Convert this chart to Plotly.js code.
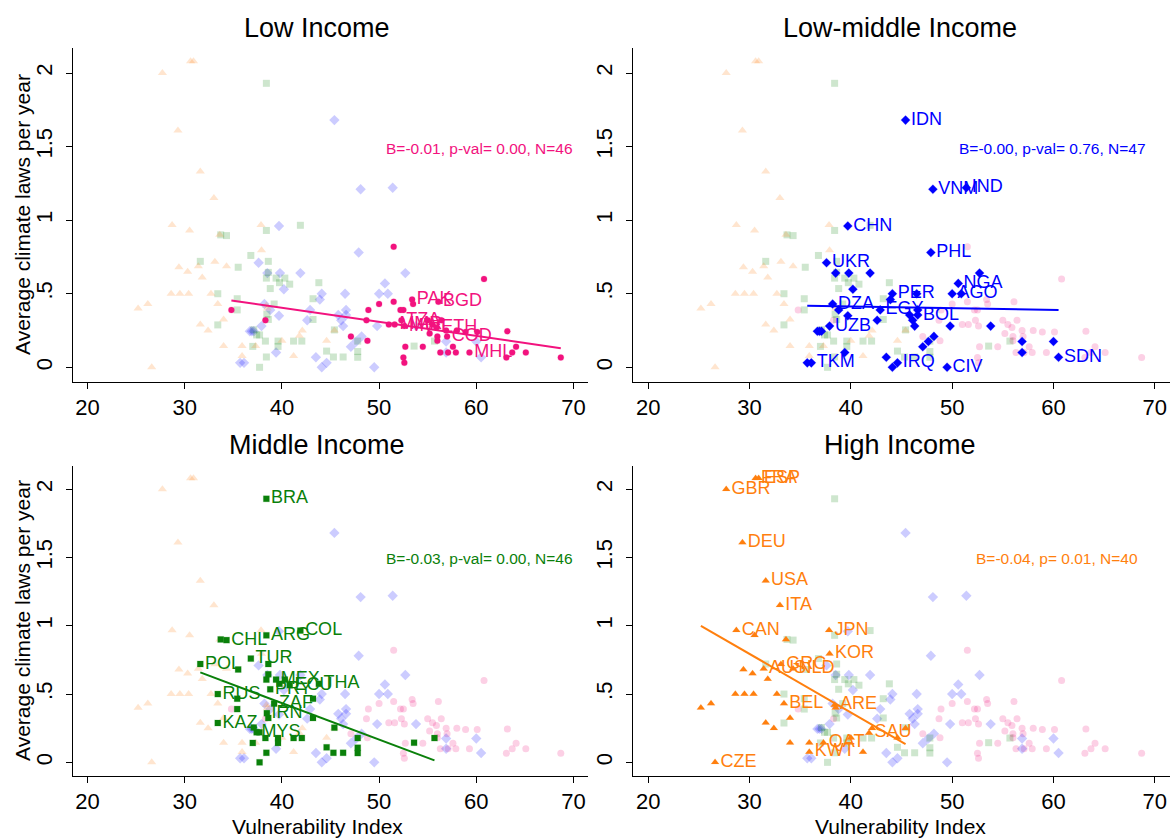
<!DOCTYPE html>
<html><head><meta charset="utf-8">
<script src="https://cdn.plot.ly/plotly-3.0.1.min.js"></script>
<style>html,body{margin:0;padding:0;background:#fff}#chart{width:1171px;height:838px}</style>
</head><body><div id="chart"></div>
<script>
// ---- Low income ----
const lowX = [34.8, 38.3, 47.1, 48.7, 48.8, 48.9, 50.0, 51.0, 51.5, 51.5, 51.6, 52.2, 52.5, 52.3, 52.5, 52.6, 52.7, 53.4, 53.5, 52.6, 54.5, 56.1, 56.0, 56.0, 56.4, 57.0, 57.6, 56.3, 57.1, 57.9, 59.3, 58.9, 60.8, 63.2, 64.1, 63.7, 63.1, 65.1, 68.7, 55.0, 55.5, 55.9, 58.0, 55.2, 56.9, 60.1];
const lowY = [0.39, 0.32, 0.21, 0.32, 0.18, 0.39, 0.43, 0.29, 0.82, 0.445, 0.29, 0.39, 0.39, 0.32, 0.066, 0.03, 0.14, 0.46, 0.43, 0.28, 0.14, 0.445, 0.21, 0.18, 0.32, 0.21, 0.14, 0.10, 0.10, 0.10, 0.10, 0.24, 0.60, 0.245, 0.14, 0.10, 0.066, 0.10, 0.066, 0.32, 0.29, 0.27, 0.25, 0.23, 0.25, 0.24];
const lowLab = ['','','','','','','','','','','MMR','','','TZA','','','','PAK','','MWI','','BGD','','','','COD','','','','','MHL','','','','','','','','','','','ETH','','','',''];

// ---- Low-middle income ----
const lmX = [45.4, 48.1, 51.4, 39.7, 47.9, 37.6, 39.8, 41.9, 52.7, 50.6, 40.2, 44.1, 43.9, 46.5, 50.0, 50.9, 38.2, 38.8, 42.9, 39.7, 42.6, 45.8, 46.6, 46.1, 46.3, 49.8, 53.8, 37.9, 36.7, 37.1, 39.4, 35.7, 36.1, 43.5, 44.6, 44.1, 47.1, 47.65, 48.2, 49.5, 56.9, 56.9, 60.0, 60.5, 46.6, 36.9, 38.5];
const lmY = [1.68, 1.21, 1.22, 0.96, 0.78, 0.71, 0.64, 0.64, 0.64, 0.57, 0.53, 0.50, 0.46, 0.50, 0.50, 0.50, 0.43, 0.39, 0.39, 0.35, 0.32, 0.355, 0.355, 0.32, 0.28, 0.28, 0.28, 0.28, 0.245, 0.245, 0.10, 0.03, 0.03, 0.068, 0.03, 0.0, 0.14, 0.175, 0.21, 0.0, 0.175, 0.10, 0.175, 0.068, 0.39, 0.245, 0.64];
const lmLab = ['IDN','VNM','IND','CHN','PHL','UKR','','','','NGA','','PER','','','AGO','','DZA','','EGY','','','','BOL','','','','','UZB','','','','','TKM','','IRQ','','','','','CIV','','','','SDN','','',''];

// ---- Middle income ----
const midX = [38.4, 41.9, 38.4, 33.7, 34.3, 36.8, 31.6, 38.6, 35.5, 38.6, 38.4, 39.4, 39.75, 40.8, 43.8, 38.8, 33.4, 35.4, 43.2, 39.2, 35.4, 38.45, 38.6, 43.2, 33.4, 37.4, 37.1, 37.7, 45.4, 39.6, 39.6, 38.3, 41.2, 42.05, 37.0, 38.4, 37.7, 44.6, 45.3, 46.3, 47.8, 47.8, 47.8, 53.6, 55.7, 40.3];
const midY = [1.93, 0.965, 0.93, 0.90, 0.895, 0.76, 0.72, 0.72, 0.68, 0.645, 0.606, 0.606, 0.575, 0.565, 0.575, 0.535, 0.50, 0.466, 0.466, 0.43, 0.39, 0.36, 0.325, 0.325, 0.288, 0.22, 0.255, 0.22, 0.254, 0.178, 0.142, 0.178, 0.178, 0.178, 0.142, 0.07, 0.0, 0.11, 0.07, 0.07, 0.107, 0.068, 0.178, 0.144, 0.178, 0.606];
const midLab = ['BRA','COL','ARG','','CHL','TUR','POL','','','','','MEX','','ECU','THA','PRY','RUS','','','ZAF','','IRN','','','KAZ','MYS','','','','','','','','','','','','','','','','','','','',''];

// ---- High income ----
const highX = [30.6, 30.9, 27.7, 29.3, 31.6, 33.0, 28.7, 30.5, 33.6, 37.85, 37.9, 33.1, 31.4, 34.3, 29.4, 30.3, 31.8, 28.6, 29.5, 30.4, 32.7, 25.2, 26.2, 33.4, 34.0, 31.6, 32.4, 38.4, 34.0, 35.9, 37.3, 35.9, 40.0, 41.2, 41.8, 42.1, 45.4, 26.6, 44.6, 38.5];
const highY = [2.08, 2.08, 2.00, 1.61, 1.33, 1.15, 0.967, 0.93, 0.90, 0.967, 0.796, 0.718, 0.686, 0.686, 0.68, 0.65, 0.61, 0.50, 0.50, 0.50, 0.50, 0.40, 0.43, 0.43, 0.325, 0.29, 0.25, 0.42, 0.144, 0.144, 0.144, 0.076, 0.18, 0.076, 0.215, 0.25, 0.25, 0.0, 0.18, 0.40];
const highLab = ['FRA','ESP','GBR','DEU','USA','ITA','CAN','','','JPN','KOR','GRC','AUS','NLD','','','','','','','','','','BEL','','','','ARE','','','QAT','KWT','','','SAU','','','CZE','',''];

const panelTitles = ['Low Income', 'Low-middle Income', 'Middle Income', 'High Income'];
const statTexts = ['B=-0.01, p-val= 0.00, N=46', 'B=-0.00, p-val= 0.76, N=47', 'B=-0.03, p-val= 0.00, N=46', 'B=-0.04, p= 0.01, N=40'];
const xTicks = [20, 30, 40, 50, 60, 70];
const yTicks = [0, 0.5, 1, 1.5, 2];
const yTickText = ['0', '.5', '1', '1.5', '2'];
const xTitle = 'Vulnerability Index';
const yTitle = 'Average climate laws per year';

const FONT = 'Liberation Sans, Arial, Helvetica, sans-serif';
const groups = [
  {x: lowX, y: lowY, lab: lowLab, color: '#F2127E', symbol: 'circle', size: 6},
  {x: lmX, y: lmY, lab: lmLab, color: '#0000FF', symbol: 'diamond', size: 7},
  {x: midX, y: midY, lab: midLab, color: '#0A800A', symbol: 'square', size: 6},
  {x: highX, y: highY, lab: highLab, color: '#FF7F0E', symbol: 'triangle-up', size: 7}
];

function ols(x, y) {
  const n = x.length;
  const mx = x.reduce((a, b) => a + b, 0) / n;
  const my = y.reduce((a, b) => a + b, 0) / n;
  let sxy = 0, sxx = 0;
  for (let i = 0; i < n; i++) { sxy += (x[i] - mx) * (y[i] - my); sxx += (x[i] - mx) ** 2; }
  const b = sxy / sxx;
  return {a: my - b * mx, b: b};
}

const axIds = [['x', 'y'], ['x2', 'y2'], ['x3', 'y3'], ['x4', 'y4']];
const traces = [];
axIds.forEach((ax, p) => {
  groups.forEach(g => {
    traces.push({type: 'scatter', mode: 'markers', x: g.x, y: g.y, xaxis: ax[0], yaxis: ax[1],
      marker: {symbol: g.symbol, size: g.size + 1, color: g.color, opacity: 0.2, line: {width: 0}},
      hoverinfo: 'skip', showlegend: false});
  });
  const g = groups[p];
  traces.push({type: 'scatter', mode: 'markers+text', x: g.x, y: g.y, text: g.lab, xaxis: ax[0], yaxis: ax[1],
    textposition: 'middle right', textfont: {family: FONT, size: 18, color: g.color},
    marker: {symbol: g.symbol, size: g.size, color: g.color, line: {width: 0}},
    cliponaxis: false, showlegend: false});
  const f = ols(g.x, g.y);
  const x0 = Math.min(...g.x), x1 = Math.max(...g.x);
  traces.push({type: 'scatter', mode: 'lines', x: [x0, x1], y: [f.a + f.b * x0, f.a + f.b * x1],
    xaxis: ax[0], yaxis: ax[1], line: {color: g.color, width: 2}, showlegend: false, hoverinfo: 'skip'});
});

const W = 1171, H = 838;
const colDom = [[73 / W, 588 / W], [633 / W, 1170 / W]];
const rowDom = [[1 - 382 / H, 1 - 48 / H], [1 - 776 / H, 1 - 466 / H]];
const titleCx = [317 / W, 900 / W];
const titleY = [1 - 28 / H, 1 - 445 / H];

function xax(dom, anchor) {
  return {domain: dom, anchor: anchor, range: [18.5, 71.5], showline: true, linecolor: '#000', linewidth: 1,
    ticks: 'outside', ticklen: 6, tickwidth: 1, tickcolor: '#000', tickvals: xTicks,
    tickfont: {family: FONT, size: 22, color: '#000'}, showgrid: false, zeroline: false, fixedrange: true};
}
function yax(dom, anchor) {
  return {domain: dom, anchor: anchor, range: [-0.1, 2.17], showline: true, linecolor: '#000', linewidth: 1,
    ticks: 'outside', ticklen: 6, tickwidth: 1, tickcolor: '#000', tickvals: yTicks, ticktext: yTickText,
    tickangle: -90, ticklabelstandoff: 5, tickfont: {family: FONT, size: 22, color: '#000'},
    showgrid: false, zeroline: false, fixedrange: true};
}

const layout = {
  width: W, height: H, margin: {l: 0, r: 0, t: 0, b: 0}, paper_bgcolor: '#fff', plot_bgcolor: '#fff',
  font: {family: FONT, color: '#000'}, showlegend: false, hovermode: false,
  xaxis: xax(colDom[0], 'y'), yaxis: yax(rowDom[0], 'x'),
  xaxis2: xax(colDom[1], 'y2'), yaxis2: yax(rowDom[0], 'x2'),
  xaxis3: xax(colDom[0], 'y3'), yaxis3: yax(rowDom[1], 'x3'),
  xaxis4: xax(colDom[1], 'y4'), yaxis4: yax(rowDom[1], 'x4'),
  annotations: []
};

panelTitles.forEach((t, p) => {
  const c = p % 2, r = Math.floor(p / 2);
  layout.annotations.push({text: t, xref: 'paper', yref: 'paper', x: titleCx[c], y: titleY[r],
    xanchor: 'center', yanchor: 'middle', showarrow: false, font: {family: FONT, size: 27, color: '#000'}});
});
[0, 1].forEach(c => layout.annotations.push({text: xTitle, xref: 'paper', yref: 'paper', x: titleCx[c], y: 1 - 826 / H,
  xanchor: 'center', yanchor: 'middle', showarrow: false, font: {family: FONT, size: 21, color: '#000'}}));
[[48, 382], [466, 776]].forEach(r => layout.annotations.push({text: yTitle, xref: 'paper', yref: 'paper',
  x: 22 / W, y: 1 - (r[0] + r[1]) / 2 / H, xanchor: 'center', yanchor: 'middle', textangle: -90, showarrow: false,
  font: {family: FONT, size: 21, color: '#000'}}));
const statX = [70.2, 69.3, 70.2, 68.5];
statTexts.forEach((t, p) => layout.annotations.push({text: t, xref: axIds[p][0], yref: axIds[p][1],
  x: statX[p], y: 1.49, xanchor: 'right', yanchor: 'middle', showarrow: false,
  font: {family: FONT, size: 15.5, color: groups[p].color}}));

Plotly.newPlot('chart', traces, layout, {staticPlot: true, displayModeBar: false});
</script>
</body></html>
